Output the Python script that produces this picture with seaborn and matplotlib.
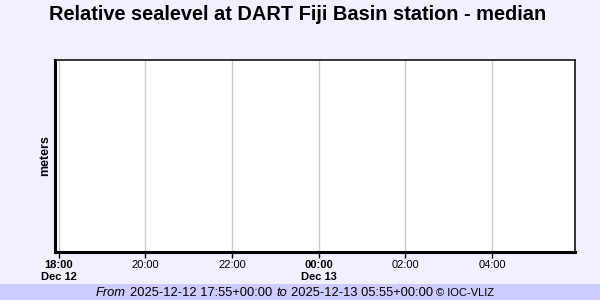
import matplotlib
matplotlib.use("Agg")
import matplotlib.pyplot as plt
import pandas as pd
import seaborn as sns

title = "Relative sealevel at DART Fiji Basin station - median"
ylabel = "meters"
start = "2025-12-12 17:55"
end = "2025-12-13 05:55"
tick_times = ["2025-12-12 18:00", "2025-12-12 20:00", "2025-12-12 22:00",
              "2025-12-13 00:00", "2025-12-13 02:00", "2025-12-13 04:00"]
tick_labels = ["18:00\nDec 12", "20:00", "22:00", "00:00\nDec 13", "02:00", "04:00"]
bold_ticks = [True, False, False, True, False, False]
times = []      # no data in the reference
levels = []

sns.set_style("white")
plt.rcParams['font.family'] = ['Liberation Sans', 'DejaVu Sans']
plt.rcParams['text.color'] = 'black'
plt.rcParams['axes.labelcolor'] = 'black'
plt.rcParams['xtick.color'] = 'black'

bg = "#F0F0FF"
fig = plt.figure(figsize=(6, 3), dpi=100, facecolor=bg)
ax = fig.add_axes([55/600, 1-252/300, 520/600, 192/300])
ax.set_facecolor("white")

df = pd.DataFrame({"time": pd.to_datetime(pd.Series(times, dtype="object")),
                   "level": pd.Series(levels, dtype=float)})
if len(df):
    sns.lineplot(data=df, x="time", y="level", ax=ax, color="blue")

ax.set_xlim(pd.Timestamp(start), pd.Timestamp(end))
ax.set_ylim(0, 1)
tt = [pd.Timestamp(t) for t in tick_times]
ax.set_xticks(tt)
ax.set_xticklabels(tick_labels)
for lab, b in zip(ax.get_xticklabels(), bold_ticks):
    lab.set_fontweight("bold" if b else "normal")
    lab.set_fontsize(8)
    lab.set_color("black")
    lab.set_linespacing(1.25)
ax.set_yticks([])
ax.grid(axis="x", color="#cccccc", linewidth=1)
ax.tick_params(axis="x", direction="out", length=4, width=1, color="black", pad=2, bottom=True)
for side, w in [("left", 2.2), ("bottom", 2.2), ("top", 1.1), ("right", 1.1)]:
    ax.spines[side].set_visible(True)
    ax.spines[side].set_color("black")
    ax.spines[side].set_linewidth(w)
ax.set_xlabel("")
ax.set_ylabel(ylabel, fontsize=9, fontweight="bold", labelpad=3, color="black")

fig.text(298/600, 1-14.5/300, title, ha="center", va="center", fontsize=14.4,
         fontweight="bold", color="black")

# footer band
fig.patches.append(plt.Rectangle((0, 0), 1, 16/300, transform=fig.transFigure,
                                 facecolor="#CCCCFF", edgecolor="none", zorder=0))
fy = 1-292.5/300
fs = 9.3
fig.text(96/600, fy, "From", ha="left", va="center", fontsize=fs, style="italic")
fig.text(130/600, fy, "2025-12-12 17:55+00:00", ha="left", va="center", fontsize=fs)
fig.text(276/600, fy, "to", ha="left", va="center", fontsize=fs, style="italic")
fig.text(291/600, fy, "2025-12-13 05:55+00:00", ha="left", va="center", fontsize=fs)
fig.text(436/600, fy, "© IOC-VLIZ", ha="left", va="center", fontsize=8)

fig.savefig("out.png", dpi=100, facecolor=bg)
